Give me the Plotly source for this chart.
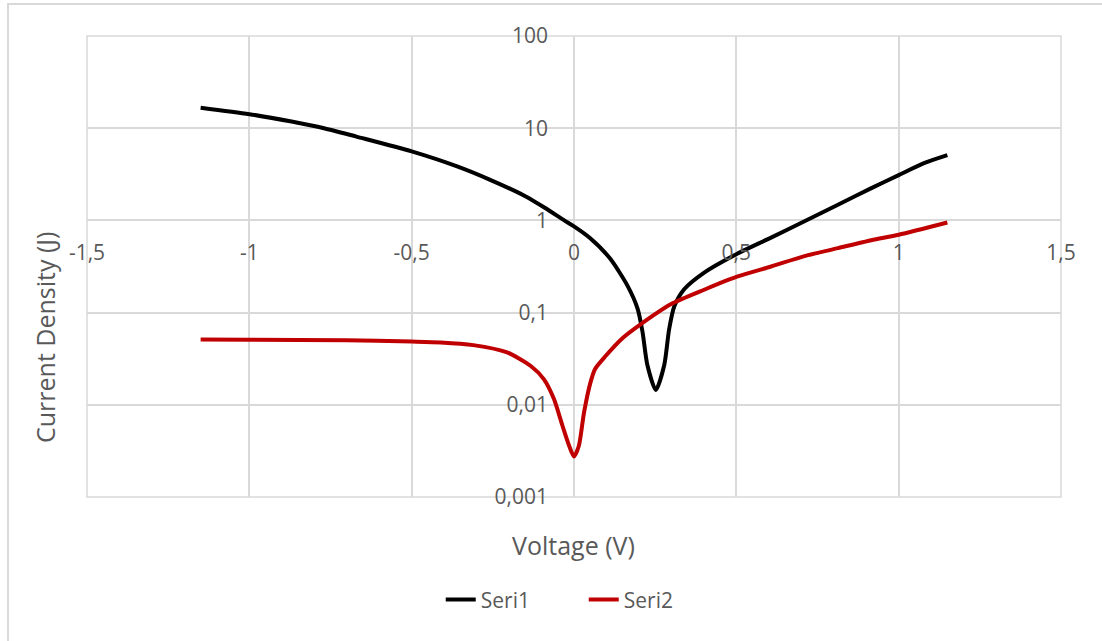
import plotly.graph_objects as go

# ---- data ----
seri1_v = [-1.15, -1.0, -0.87, -0.77, -0.67, -0.5, -0.36, -0.26, -0.15, -0.09, -0.03, 0.0,
           0.05, 0.11, 0.165, 0.196, 0.211, 0.226, 0.252, 0.278, 0.293, 0.309, 0.34, 0.40,
           0.5, 0.607, 0.71, 0.813, 0.916, 1.0, 1.08, 1.15]
seri1_j = [16.7, 14.2, 11.8, 10.0, 8.1, 5.6, 3.85, 2.77, 1.83, 1.37, 1.0, 0.86,
           0.64, 0.39, 0.195, 0.11, 0.062, 0.027, 0.0145, 0.027, 0.066, 0.117, 0.18, 0.27,
           0.43, 0.65, 0.98, 1.48, 2.24, 3.1, 4.2, 5.1]

seri2_v = [-1.15, -1.0, -0.7, -0.5, -0.41, -0.31, -0.206, -0.134, -0.093, -0.062, -0.036,
           -0.015, 0.0, 0.015, 0.031, 0.051, 0.065, 0.098, 0.15, 0.206, 0.298, 0.401, 0.502,
           0.607, 0.71, 0.813, 0.916, 1.0, 1.15]
seri2_j = [0.0512, 0.0508, 0.0500, 0.0485, 0.0475, 0.0444, 0.037, 0.0265, 0.019, 0.0116, 0.006,
           0.0036, 0.00275, 0.0036, 0.0083, 0.0176, 0.0245, 0.034, 0.053, 0.075, 0.123, 0.177, 0.245,
           0.316, 0.41, 0.50, 0.61, 0.70, 0.95]

x_ticks = [-1.5, -1, -0.5, 0, 0.5, 1, 1.5]
x_ticktext = ["-1,5", "-1", "-0,5", "0", "0,5", "1", "1,5"]
y_ticks = [0.001, 0.01, 0.1, 1, 10, 100]
y_ticktext = ["0,001", "0,01", "0,1", "1", "10", "100"]

x_range = [-1.5, 1.5]
y_range_log = [-3, 2]
x_cross = 0      # value where vertical axis crosses
y_cross_log = 0  # log10 of value where horizontal axis crosses (J = 1)

FONT = "Open Sans"
GRID = "#d9d9d9"
TXT = "#595959"

fig = go.Figure()
fig.add_trace(go.Scatter(x=seri1_v, y=seri1_j, mode="lines", name="Seri1",
                         line=dict(color="#000000", width=4, shape="spline", smoothing=0.7)))
fig.add_trace(go.Scatter(x=seri2_v, y=seri2_j, mode="lines", name="Seri2",
                         line=dict(color="#C00000", width=4, shape="spline", smoothing=0.7)))

xpos = (y_cross_log - y_range_log[0]) / (y_range_log[1] - y_range_log[0])
ypos = (x_cross - x_range[0]) / (x_range[1] - x_range[0])

fig.update_layout(
    width=1102, height=641,
    margin=dict(l=87, r=41, t=36, b=144),
    paper_bgcolor="white", plot_bgcolor="white",
    font=dict(family=FONT, color=TXT),
    showlegend=True,
    legend=dict(orientation="h", x=0.51, y=-0.223, xanchor="center", yanchor="middle",
                entrywidth=98, entrywidthmode="pixels",
                font=dict(size=21, color=TXT, family=FONT), bgcolor="rgba(0,0,0,0)"),
    xaxis=dict(range=x_range, tickvals=x_ticks, ticktext=x_ticktext,
               showgrid=True, gridcolor=GRID, gridwidth=1.5,
               zeroline=True, zerolinecolor=GRID, zerolinewidth=1.5,
               showline=False, anchor="free", position=xpos,
               ticks="", ticklabelstandoff=18,
               tickfont=dict(size=21, color=TXT, family=FONT)),
    yaxis=dict(type="log", range=y_range_log, tickvals=y_ticks, ticktext=y_ticktext,
               showgrid=True, gridcolor=GRID, gridwidth=1.5,
               showline=False, anchor="free", position=ypos,
               ticks="", ticklabelstandoff=26,
               tickfont=dict(size=21, color=TXT, family=FONT)),
    shapes=[
        dict(type="rect", xref="paper", yref="paper", x0=0, x1=1, y0=0, y1=1,
             line=dict(color=GRID, width=1.5), layer="below"),
        dict(type="rect", xref="paper", yref="paper",
             x0=(8 - 87) / 974, x1=(1120 - 87) / 974,
             y0=(497 - 660) / 461, y1=(497 - 4) / 461,
             line=dict(color="#d9d9d9", width=2), layer="below"),
    ],
    annotations=[
        dict(text="Voltage (V)", xref="paper", yref="paper", x=0.499, y=-0.104,
             showarrow=False, xanchor="center", yanchor="middle",
             font=dict(size=25, color=TXT, family=FONT)),
        dict(text="Current Density (J)", xref="paper", yref="paper", x=-0.0431, y=0.345,
             showarrow=False, xanchor="center", yanchor="middle", textangle=-90,
             font=dict(size=25, color=TXT, family=FONT)),
    ],
)

fig.write_html("out.html", config={"displayModeBar": False},
               post_script="document.body.style.margin='0px';")
